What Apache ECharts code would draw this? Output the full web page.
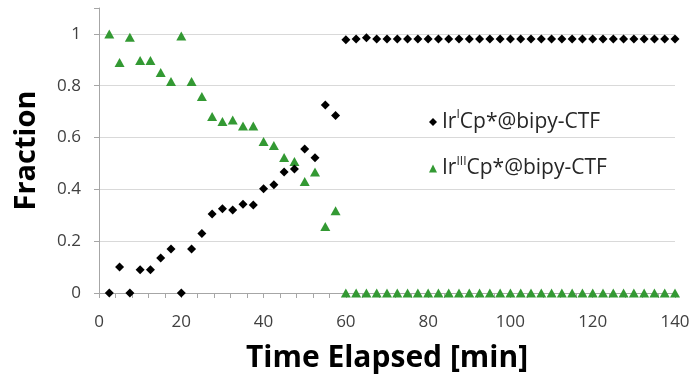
<!DOCTYPE html>
<html>
<head>
<meta charset="utf-8">
<script src="https://cdn.jsdelivr.net/npm/echarts@6/dist/echarts.min.js"></script>
<style>
  html, body { margin: 0; padding: 0; background: #fff; }
  #chart { width: 694px; height: 380px; }
</style>
</head>
<body>
<div id="chart"></div>
<script>
// time points (min), every 2.5 min from 2.5 to 140
const times = [
  2.5, 5, 7.5, 10, 12.5, 15, 17.5, 20, 22.5, 25, 27.5, 30, 32.5, 35, 37.5, 40,
  42.5, 45, 47.5, 50, 52.5, 55, 57.5, 60, 62.5, 65, 67.5, 70, 72.5, 75, 77.5,
  80, 82.5, 85, 87.5, 90, 92.5, 95, 97.5, 100, 102.5, 105, 107.5, 110, 112.5,
  115, 117.5, 120, 122.5, 125, 127.5, 130, 132.5, 135, 137.5, 140
];

// Ir(I)Cp*@bipy-CTF fraction
const irIValues = [
  0, 0.1, 0, 0.09, 0.09, 0.135, 0.17, 0, 0.17, 0.23, 0.305, 0.325, 0.32, 0.343,
  0.34, 0.402, 0.418, 0.467, 0.479, 0.556, 0.522, 0.726, 0.685, 0.977, 0.98,
  0.985, 0.98, 0.98, 0.98, 0.98, 0.98, 0.98, 0.98, 0.98, 0.98, 0.98, 0.98, 0.98,
  0.98, 0.98, 0.98, 0.98, 0.98, 0.98, 0.98, 0.98, 0.98, 0.98, 0.98, 0.98, 0.98,
  0.98, 0.98, 0.98, 0.98, 0.98
];

// Ir(III)Cp*@bipy-CTF fraction
const irIIIValues = [
  1.0, 0.89, 0.987, 0.897, 0.897, 0.851, 0.816, 0.992, 0.816, 0.758, 0.681,
  0.662, 0.668, 0.645, 0.645, 0.585, 0.569, 0.523, 0.508, 0.43, 0.467, 0.257,
  0.317, 0, 0, 0, 0, 0, 0, 0, 0, 0, 0, 0, 0, 0, 0, 0, 0, 0, 0, 0, 0, 0, 0, 0, 0,
  0, 0, 0, 0, 0, 0, 0, 0, 0
];

const seriesNames = ['IrI', 'IrIII'];
const legendLabels = {
  IrI: '{n|Ir}{s|I}{n|Cp*@bipy-CTF}',
  IrIII: '{n|Ir}{s|III}{n|Cp*@bipy-CTF}'
};

const font = '"Open Sans", sans-serif';
const axisGray = '#a6a6a6';
const gridGray = '#d9d9d9';

const chart = echarts.init(document.getElementById('chart'), null, { renderer: 'canvas' });

chart.setOption({
  animation: false,
  grid: { left: 99, right: 19, top: 8, bottom: 87 },
  legend: {
    orient: 'vertical',
    left: 424,
    top: 104,
    itemGap: 23,
    itemWidth: 8,
    itemHeight: 8,
    data: [
      { name: 'IrI', icon: 'diamond' },
      { name: 'IrIII', icon: 'triangle' }
    ],
    formatter: (name) => legendLabels[name],
    textStyle: {
      rich: {
        n: { fontFamily: font, fontSize: 21, color: '#262626', lineHeight: 26 },
        s: { fontFamily: font, fontSize: 12, color: '#262626', lineHeight: 15, verticalAlign: 'top' }
      }
    }
  },
  xAxis: {
    type: 'value',
    min: 0,
    max: 140,
    interval: 20,
    name: 'Time Elapsed [min]',
    nameLocation: 'middle',
    nameGap: 50,
    nameTextStyle: { fontFamily: font, fontSize: 30, fontWeight: 'bold', color: '#000' },
    axisLine: { show: true, lineStyle: { color: axisGray, width: 1 } },
    axisTick: { show: true, length: 5, lineStyle: { color: axisGray } },
    minorTick: { show: true, splitNumber: 5, length: 5, lineStyle: { color: axisGray } },
    axisLabel: { fontFamily: font, fontSize: 17, color: '#404040', margin: 21 },
    splitLine: { show: false }
  },
  yAxis: {
    type: 'value',
    min: 0,
    max: 1.1,
    interval: 0.2,
    name: 'Fraction',
    nameLocation: 'middle',
    nameGap: 58,
    nameTextStyle: { fontFamily: font, fontSize: 29, fontWeight: 'bold', color: '#000' },
    axisLine: { show: true, lineStyle: { color: axisGray, width: 1 } },
    axisTick: { show: true, length: 5, lineStyle: { color: axisGray } },
    axisLabel: {
      fontFamily: font, fontSize: 17, color: '#404040', margin: 18,
      formatter: (v) => (v > 1.05 ? '' : String(Math.round(v * 10) / 10))
    },
    splitLine: {
      show: true,
      lineStyle: {
        color: [gridGray, gridGray, gridGray, gridGray, gridGray, gridGray, 'rgba(0,0,0,0)'],
        width: 1
      }
    }
  },
  series: [
    {
      name: seriesNames[0],
      type: 'scatter',
      symbol: 'diamond',
      symbolSize: 9,
      itemStyle: { color: '#000', opacity: 1 },
      data: times.map((t, i) => [t, irIValues[i]]),
      z: 3
    },
    {
      name: seriesNames[1],
      type: 'scatter',
      symbol: 'triangle',
      symbolSize: [10, 9],
      itemStyle: { color: '#339933', opacity: 1 },
      data: times.map((t, i) => [t, irIIIValues[i]]),
      z: 2
    }
  ]
});
</script>
</body>
</html>
